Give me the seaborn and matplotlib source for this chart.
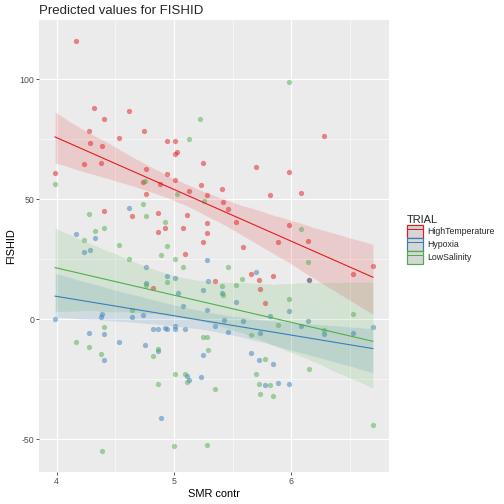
import numpy as np
import pandas as pd
import matplotlib
matplotlib.use('Agg')
import matplotlib.pyplot as plt
import seaborn as sns
from matplotlib.patches import Patch
from matplotlib.lines import Line2D
from matplotlib.ticker import MultipleLocator

# data
trials = ['HighTemperature', 'Hypoxia', 'LowSalinity']
colors = ['#E41A1C', '#377EB8', '#4DAF4A']

high_x = [4.166, 4.32, 4.62, 4.40, 4.277, 4.746, 4.533, 4.28, 4.388, 4.939,
          5.01, 5.008, 5.03, 4.232, 4.377, 5.25, 3.985, 4.763, 4.94, 4.737,
          4.885, 5.008, 5.23, 6.278, 5.70, 5.985, 5.413, 4.763, 5.127, 5.28,
          4.407, 4.646, 4.86, 5.113, 4.925, 4.86, 5.078, 5.283, 5.283, 5.249,
          5.095, 4.82, 5.823, 6.082, 5.422, 5.462, 5.528, 5.985, 5.886, 6.147,
          5.587, 6.698, 5.658, 5.846, 6.53, 5.724, 6.155, 5.351, 5.737, 5.778]
high_y = [116.1, 88.2, 86.8, 83.3, 78.6, 78.6, 75.4, 73.5, 72.0, 74.2,
          74.2, 69.0, 69.6, 64.6, 65.1, 64.9, 61.0, 62.5, 60.6, 57.2,
          56.4, 57.9, 55.8, 76.4, 63.6, 61.4, 54.2, 52.1, 53.5, 51.8,
          44.9, 42.8, 44.4, 43.6, 37.9, 36.5, 38.0, 39.9, 36.1, 32.0,
          27.1, 12.9, 51.7, 52.4, 49.0, 45.8, 40.6, 39.3, 32.1, 32.5,
          30.0, 22.1, 18.75, 18.2, 18.9, 16.4, 16.25, 15.8, 12.5, 6.8]

hyp_x = [4.62, 4.169, 4.326, 4.232, 4.28, 5.283, 4.76, 4.942, 5.013, 4.76,
         5.29, 5.25, 5.033, 5.078, 5.283, 4.388, 4.377, 4.646, 4.737, 3.985,
         5.349, 4.82, 4.86, 4.925, 4.942, 5.008, 5.008, 5.093, 4.277, 4.40,
         5.70, 6.155, 5.413, 5.53, 5.985, 5.823, 5.425, 5.587, 6.147, 6.082,
         6.698, 6.278, 6.53, 5.462, 5.737, 4.533, 4.749, 4.86, 4.407, 5.251,
         5.113, 5.127, 5.229, 4.888, 5.658, 5.724, 5.846, 5.886, 5.985, 5.778]
hyp_y = [46.4, 35.7, 33.75, 28.2, 28.9, 24.7, 21.8, 17.8, 17.0, 15.1,
         15.8, 12.0, 10.8, 5.7, 4.0, 2.2, 1.0, 1.0, 1.8, -0.1,
         -2.9, -3.9, -4.0, -3.75, -4.2, -2.9, -3.9, -3.9, -5.8, -6.0,
         19.6, 16.25, 10.8, 7.2, 3.3, 1.4, -0.4, -0.6, -0.8, -2.8,
         -3.2, -6.0, -5.6, -5.4, -5.6, -9.6, -10.6, -13.3, -16.8, -14.9,
         -23.6, -25.3, -23.9, -41.25, -14.0, -16.8, -18.75, -26.7, -27.2, -27.5]

low_x = [5.226, 5.127, 3.985, 4.749, 5.985, 5.03, 5.255, 4.737, 4.277, 4.76,
         4.925, 4.40, 4.326, 4.232, 4.533, 4.942, 4.888, 5.008, 4.62, 5.078,
         4.939, 4.76, 4.646, 4.407, 5.249, 5.28, 6.082, 6.147, 5.462, 5.584,
         5.413, 5.53, 5.422, 5.985, 6.53, 5.886, 6.278, 5.658, 4.169, 4.277,
         4.86, 4.82, 4.377, 5.289, 5.013, 5.093, 5.113, 4.86, 5.349, 5.004,
         5.28, 4.388, 5.778, 6.155, 5.70, 5.724, 5.82, 5.737, 5.846, 6.698]
low_y = [83.5, 74.9, 56.4, 57.5, 99.0, 52.0, 49.4, 47.9, 44.0, 42.8,
         40.3, 38.2, 36.8, 33.2, 31.1, 30.5, 26.7, 25.1, 24.9, 21.7,
         15.3, 14.3, 4.0, -3.1, -7.4, -7.6, 37.4, 23.9, 21.7, 16.7,
         13.9, 14.3, 10.0, 8.5, 2.2, -2.6, -4.4, -6.4, -9.4, -11.4,
         -12.6, -15.3, -14.6, -12.9, -22.9, -22.8, -26.25, -27.1, -29.0, -52.8,
         -52.6, -55.1, -16.5, -20.7, -22.8, -27.1, -27.6, -31.25, -32.1, -43.9]

df = pd.concat([
    pd.DataFrame({'SMR': high_x, 'FISHID': high_y, 'TRIAL': trials[0]}),
    pd.DataFrame({'SMR': hyp_x, 'FISHID': hyp_y, 'TRIAL': trials[1]}),
    pd.DataFrame({'SMR': low_x, 'FISHID': low_y, 'TRIAL': trials[2]}),
])

sns.set_theme(style='darkgrid')
plt.rcParams['font.family'] = ['Liberation Sans', 'DejaVu Sans']
plt.rcParams['axes.unicode_minus'] = False

fig = plt.figure(figsize=(7, 7), dpi=72)
ax = fig.add_axes([39 / 504, 1 - 472 / 504, 350 / 504, 452 / 504])
ax.set_facecolor('#EBEBEB')

for trial, col in zip(trials, colors):
    sub = df[df['TRIAL'] == trial]
    sns.regplot(data=sub, x='SMR', y='FISHID', ax=ax, color=col, ci=95, seed=1,
                scatter_kws={'s': 28, 'alpha': 0.5, 'linewidths': 0},
                line_kws={'lw': 1.1})

# ggplot-like limits (5% expansion)
xr = df['SMR'].max() - df['SMR'].min()
yr = df['FISHID'].max() - df['FISHID'].min()
ax.set_xlim(df['SMR'].min() - 0.05 * xr, df['SMR'].max() + 0.05 * xr)
ax.set_ylim(df['FISHID'].min() - 0.05 * yr, df['FISHID'].max() + 0.05 * yr)

ax.xaxis.set_major_locator(MultipleLocator(1))
ax.xaxis.set_minor_locator(MultipleLocator(0.5))
ax.yaxis.set_major_locator(MultipleLocator(50))
ax.yaxis.set_minor_locator(MultipleLocator(25))
ax.grid(which='major', color='white', lw=1.1)
ax.grid(which='minor', color='white', lw=0.55)
ax.set_axisbelow(True)
for s in ax.spines.values():
    s.set_visible(False)
ax.tick_params(which='major', length=3, width=0.8, color='#333333',
               labelsize=8.8, labelcolor='#4D4D4D', pad=2, bottom=True, left=True)
ax.tick_params(which='minor', length=0)

ax.set_xlabel('SMR contr', fontsize=11, color='black', labelpad=3)
ax.set_ylabel('FISHID', fontsize=11, color='black', labelpad=3)
ax.set_title('Predicted values for FISHID', loc='left', fontsize=13.2, pad=6)

# legend keys: grey box, coloured outline, line through the middle
handles = [(Patch(facecolor='#D6D6D6', edgecolor='none'),
            Patch(fill=False, edgecolor=c, lw=1.2),
            Line2D([], [], color=c, lw=1)) for c in colors]
leg = ax.legend(handles, trials, title='TRIAL', loc='center left',
                bbox_to_anchor=(1.04, 0.515), frameon=False, fontsize=8.8,
                title_fontsize=11, handlelength=1.9, handleheight=1.9,
                labelspacing=0.0, handletextpad=0.5, borderaxespad=0)
leg._legend_box.align = 'left'

fig.savefig('out.png', dpi=72)
